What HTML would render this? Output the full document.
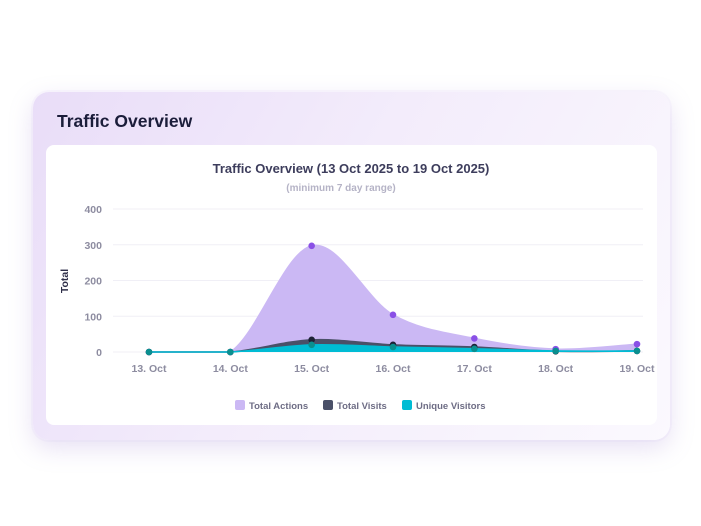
<!DOCTYPE html>
<html><head><meta charset="utf-8"><style>
body{margin:0;width:701px;height:526px;background:#fff;font-family:"Liberation Sans",sans-serif;overflow:hidden;position:relative}
.outer{position:absolute;left:33px;top:92px;width:637px;height:348px;border-radius:16px;background:linear-gradient(120deg,#e9ddf8 0%,#f3ecfb 45%,#fbf9fe 100%);box-shadow:0 8px 24px rgba(160,130,210,0.25),0 0 0 2px #fbf9fe}
.title{position:absolute;left:24px;top:19px;font-size:17.5px;font-weight:bold;color:#1b1d3a}
.inner{position:absolute;left:13px;top:53px;width:611px;height:280px;background:#fff;border-radius:8px}
svg{position:absolute;left:0;top:0}
</style></head><body>
<div class="outer">
<div class="title">Traffic Overview</div>
<div class="inner"></div>
</div>
<svg id="c" width="701" height="526"></svg>
<script>
const categories=["13. Oct","14. Oct","15. Oct","16. Oct","17. Oct","18. Oct","19. Oct"];
const totalActions=[0,0,297,104,38,8,22];
const totalVisits=[0,0,34,20,14,2,3];
const uniqueVisitors=[0,0,20,14,9,3,3];
const yTicks=[0,100,200,300,400];
const NS="http://www.w3.org/2000/svg",svg=document.getElementById('c');
const X=i=>149+i*(637-149)/(categories.length-1);
const Y=v=>352-v*(352-209)/400;
function el(t,a,txt){const e=document.createElementNS(NS,t);for(const k in a)e.setAttribute(k,a[k]);if(txt!=null)e.textContent=txt;svg.appendChild(e);return e;}
let t=el('text',{x:351,y:173,'text-anchor':'middle','font-size':13,'font-weight':'bold',fill:'#3d3d5c'},'Traffic Overview (13 Oct 2025 to 19 Oct 2025)');

t=el('text',{x:341,y:191,'text-anchor':'middle','font-size':10,'font-weight':'bold',fill:'#b5b3c6'},'(minimum 7 day range)');

yTicks.forEach(v=>{let g=el('line',{x1:113,x2:643,y1:Y(v),y2:Y(v),stroke:'#f0eff6'});
let l=el('text',{x:102,y:Y(v)+4,'text-anchor':'end','font-size':10.5,'font-weight':'bold',fill:'#8d8ca0'},v);});
t=el('text',{x:0,y:0,transform:'translate(68,281) rotate(-90)','text-anchor':'middle','font-size':10.5,'font-weight':'bold',fill:'#2e2e48'},'Total');

categories.forEach((c,i)=>{let l=el('text',{x:X(i),y:372,'text-anchor':'middle','font-size':10.5,'font-weight':'bold',fill:'#8d8ca0'},c);});
function path(vals){const p=vals.map((v,i)=>[X(i),Y(v)]);let d=`M${p[0][0]},${p[0][1]}`;
for(let i=0;i<p.length-1;i++){const p0=p[Math.max(i-1,0)],p1=p[i],p2=p[i+1],p3=p[Math.min(i+2,p.length-1)];const k=6;
let c1y=p1[1]+(p2[1]-p0[1])/k,c2y=p2[1]-(p3[1]-p1[1])/k;c1y=Math.min(c1y,352);c2y=Math.min(c2y,352);
d+=` C${p1[0]+(p2[0]-p0[0])/k},${c1y} ${p2[0]-(p3[0]-p1[0])/k},${c2y} ${p2[0]},${p2[1]}`;}return d;}
const series=[[totalActions,'#cbb8f4','#8a50e6','total-actions'],[totalVisits,'#4a5068','#1d2235','total-visits'],[uniqueVisitors,'#00bcd4','#0a8f8f','unique-visitors']];
series.forEach(([vals,fill,dot,name])=>{const d=path(vals);
let a=el('path',{d:d+` L${X(vals.length-1)},352 L${X(0)},352 Z`,fill});
let ln=el('path',{d,fill:'none',stroke:fill,'stroke-width':1.5});
vals.forEach((v,i)=>{let c=el('circle',{cx:X(i),cy:Y(v),r:3.3,fill:dot});});});
const leg=[['Total Actions','#cbb8f4',235],['Total Visits','#4a5068',323],['Unique Visitors','#00bcd4',402]];
leg.forEach(([n,c,x])=>{let r=el('rect',{x,y:400,width:10,height:10,rx:2,fill:c});
let l=el('text',{x:x+14,y:409,'font-size':9.5,'font-weight':'bold',fill:'#6e6d85'},n);});
</script>
</body></html>
